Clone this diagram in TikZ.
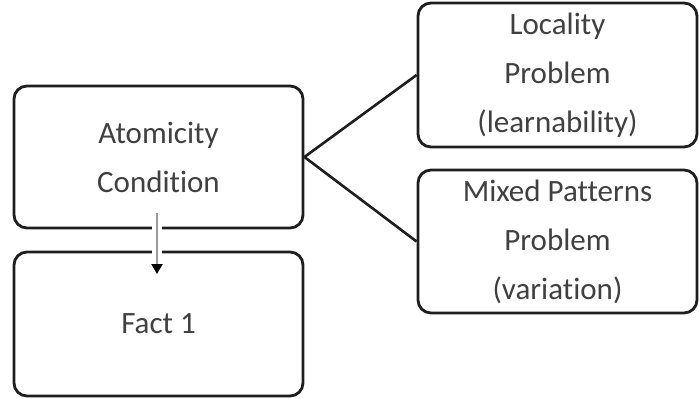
\documentclass[tikz,border=0pt]{standalone}
\usepackage{fontspec}
\setmainfont{Carlito}[Ligatures={NoCommon,NoRequired,NoContextual}]
\usetikzlibrary{arrows.meta}
\definecolor{txt}{RGB}{64,64,64}
\definecolor{edge}{RGB}{30,30,30}
% keeps t and i apart
\newcommand{\tisep}{\kern0pt}
\tikzset{
  box/.style={draw=edge, line width=2.8pt, rounded corners=13pt, fill=white,
    align=center, text=txt, font=\fontsize{31}{49}\selectfont, inner sep=0pt},
  link/.style={draw=edge, line width=2.6pt},
}
\begin{document}
\begin{tikzpicture}[x=1pt,y=-1pt]
\useasboundingbox (0,0) rectangle (699,399);
\node[box, minimum width=289pt, minimum height=142pt] (atom) at (158.5,157) {Atomicity\\Condit\tisep ion};
\node[box, minimum width=289pt, minimum height=144pt] (fact) at (158.5,324) {Fact 1};
\node[box, minimum width=279pt, minimum height=144pt] (loc) at (557.5,75) {Locality\\Problem\\(learnability)};
\node[box, minimum width=279pt, minimum height=143pt] (mix) at (557.5,241.5) {Mixed Patterns\\Problem\\(variat\tisep ion)};
\draw[link] (loc.west) -- (atom.east) -- (mix.west);
% arrow from the condition down to the fact, cutting through both borders
\coordinate (a1) at (157,213);
\coordinate (a2) at (157,274);
\draw[white, line width=10pt] (157,220) -- (157,260);
\draw[gray!80, line width=2.6pt, -{Triangle[color=black,length=10pt,width=11pt]}] (a1) -- (a2);
\end{tikzpicture}
\end{document}
